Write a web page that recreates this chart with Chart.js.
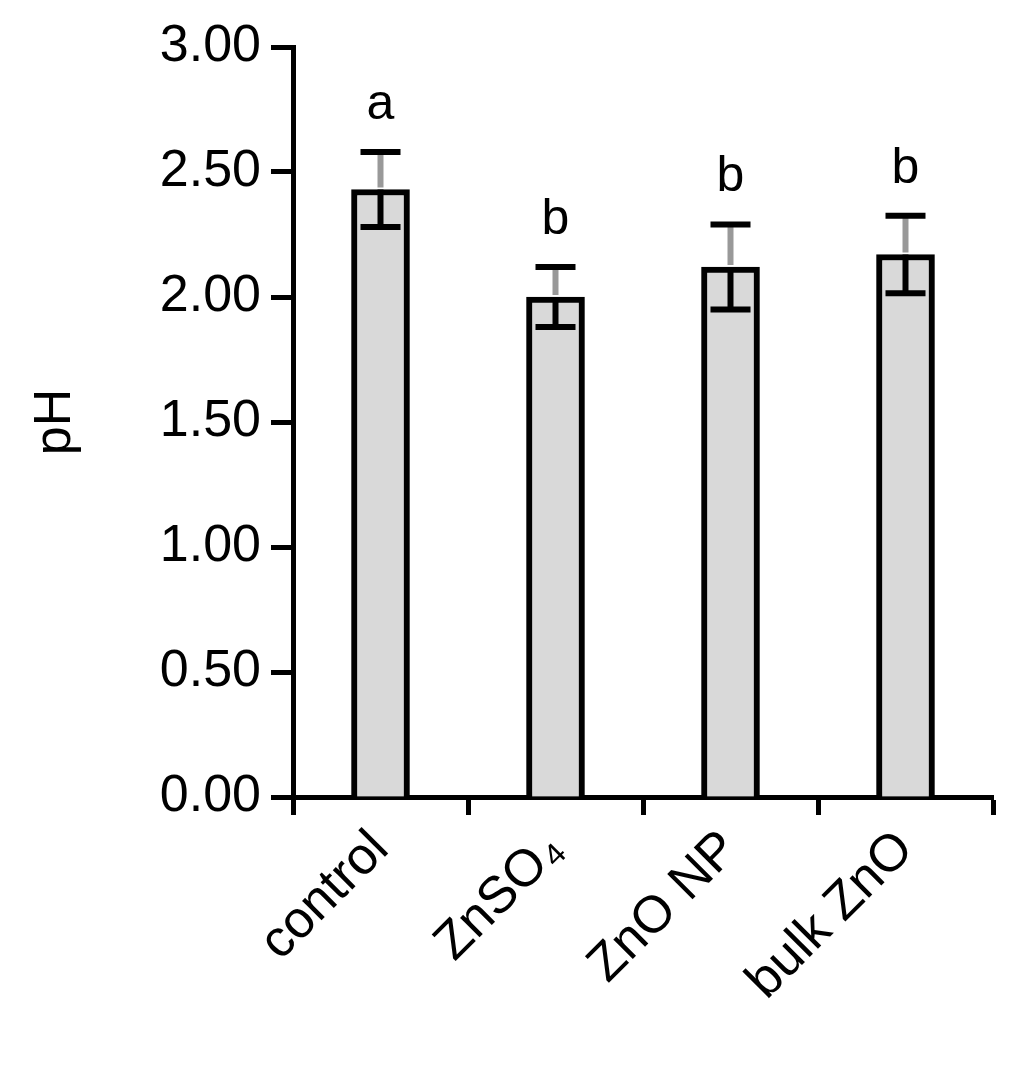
<!DOCTYPE html>
<html><head><meta charset="utf-8">
<script src="https://cdn.jsdelivr.net/npm/chart.js@4/dist/chart.umd.min.js"></script>
<style>html,body{margin:0;padding:0;background:#fff}#w{width:1011px;height:1091px}</style>
</head><body><div id="w"><canvas id="c" width="1011" height="1091"></canvas></div>
<script>
const categories = ["control", "ZnSO\u2084", "ZnO NP", "bulk ZnO"];
const phValues = [2.43, 2.00, 2.12, 2.17];
const phErrors = [0.15, 0.12, 0.17, 0.155];
const letters = ["a", "b", "b", "b"];
const yTicks = [0, 0.5, 1, 1.5, 2, 2.5, 3];
const FONT = "Arial, 'Liberation Sans', sans-serif";

const errPlugin = {
  id: 'err',
  afterDatasetsDraw(chart) {
    const ctx = chart.ctx, y = chart.scales.y;
    const meta = chart.getDatasetMeta(0);
    ctx.save();
    meta.data.forEach((bar, i) => {
      const x = bar.x;
      const yt = y.getPixelForValue(phValues[i] + phErrors[i]);
      const yb = y.getPixelForValue(phValues[i] - phErrors[i]);
      const yv = y.getPixelForValue(phValues[i]);
      ctx.lineWidth = 6; ctx.strokeStyle = '#000';
      ctx.beginPath(); ctx.moveTo(x, yv); ctx.lineTo(x, yb); ctx.stroke();
      ctx.strokeStyle = '#999';
      ctx.beginPath(); ctx.moveTo(x, yt); ctx.lineTo(x, yv - 2); ctx.stroke();
      ctx.strokeStyle = '#000';
      ctx.beginPath();
      ctx.moveTo(x - 20, yt); ctx.lineTo(x + 20, yt);
      ctx.moveTo(x - 20, yb); ctx.lineTo(x + 20, yb);
      ctx.stroke();
      ctx.fillStyle = '#000'; ctx.font = '50px ' + FONT;
      ctx.textAlign = 'center'; ctx.textBaseline = 'bottom';
      ctx.fillText(letters[i], x, yt - 22);
    });
    ctx.restore();
  }
};

new Chart(document.getElementById('c'), {
  type: 'bar',
  data: { labels: categories, datasets: [{ data: phValues, backgroundColor: '#d9d9d9', borderColor: '#000', borderWidth: 6, barThickness: 58, borderSkipped: 'bottom' }] },
  options: {
    responsive: false, animation: false, devicePixelRatio: 1,
    layout: { padding: { top: 47, right: 18, left: 20, bottom: 0 } },
    plugins: { legend: { display: false }, tooltip: { enabled: false } },
    scales: {
      x: {
        afterFit(s) { s.height = 294; },
        grid: { offset: true, drawOnChartArea: false, tickLength: 18, tickWidth: 5, tickColor: '#000' },
        border: { width: 5, color: '#000' },
        ticks: { color: '#000', font: { size: 52, family: FONT }, minRotation: 45, maxRotation: 45, padding: 4 }
      },
      y: {
        min: 0, max: 3,
        afterFit(s) { s.width = 273; },
        afterBuildTicks(s) { s.ticks = yTicks.map(v => ({ value: v })); },
        grid: { drawOnChartArea: false, tickLength: 22, tickWidth: 5, tickColor: '#000' },
        border: { width: 5, color: '#000' },
        ticks: { color: '#000', font: { size: 52, family: FONT }, padding: 10, callback: v => Number(v).toFixed(2) },
        title: { display: true, text: 'pH', color: '#000', font: { size: 52, family: FONT }, padding: { bottom: 0 } }
      }
    }
  },
  plugins: [errPlugin]
});
</script></body></html>
